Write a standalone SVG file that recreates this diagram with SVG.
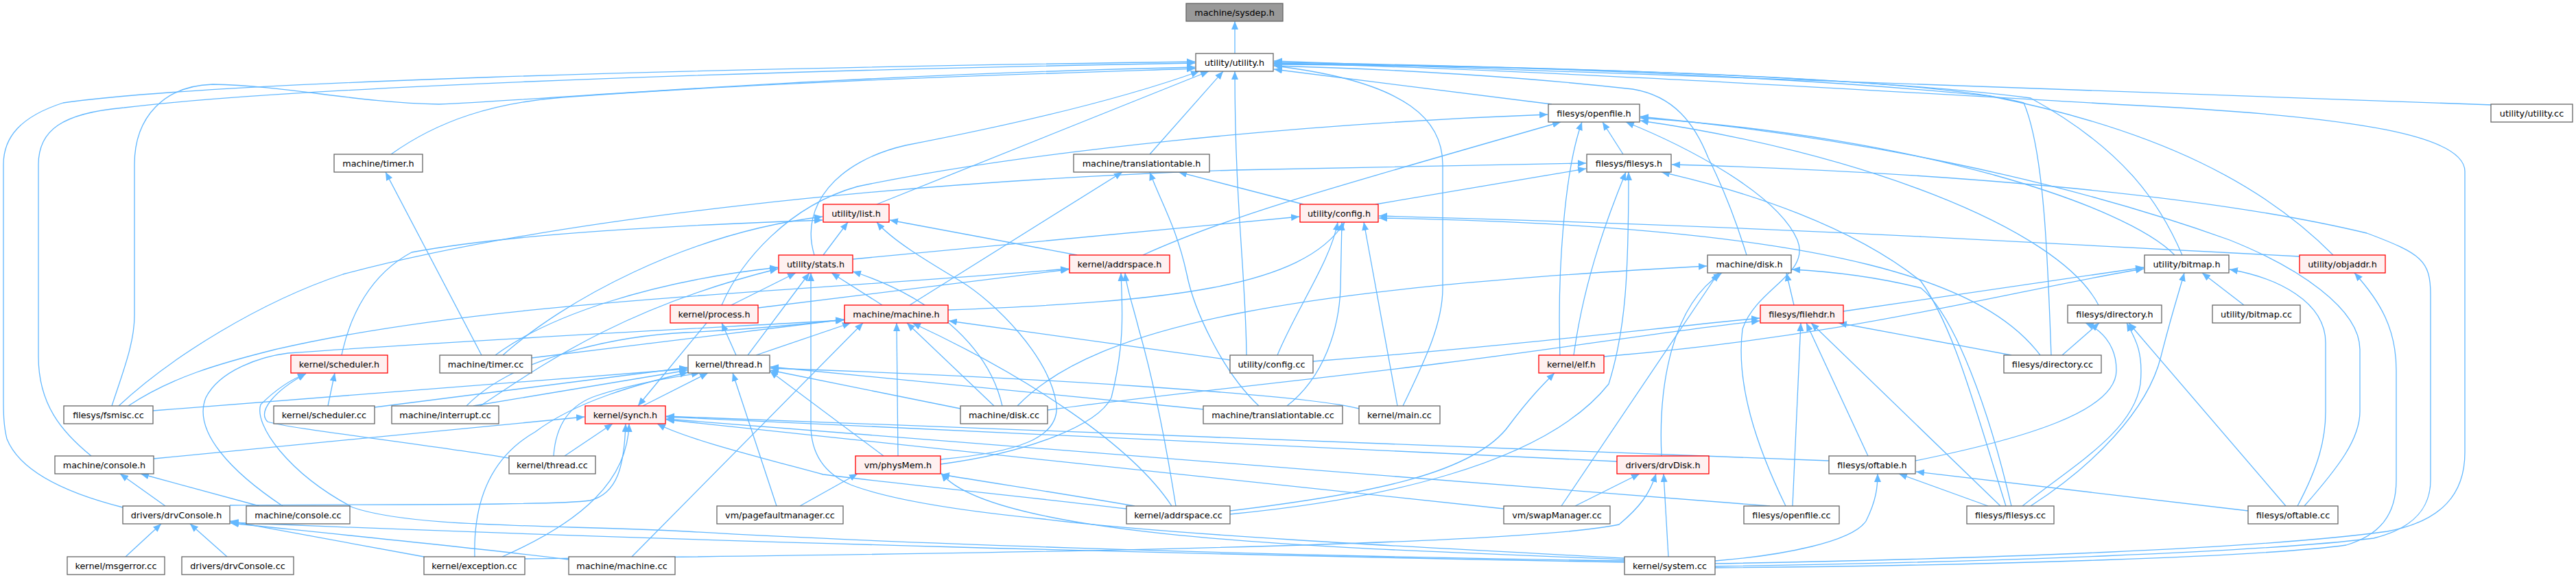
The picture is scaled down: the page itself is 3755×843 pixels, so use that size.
<svg xmlns="http://www.w3.org/2000/svg" width="3755" height="843" viewBox="0 0 3755 843">
<defs>
<style>
.e path{fill:none;stroke:#63b8ff;stroke-width:1.3;marker-end:url(#a)}
.n rect{fill:#ffffff;stroke:#666666;stroke-width:1.3}
.r rect{fill:#fff0f0;stroke:#ff0000;stroke-width:1.3}
.root rect{fill:#999999;stroke:#666666;stroke-width:1.3}
text{font-family:"DejaVu Sans","Liberation Sans",sans-serif;font-size:12.8px;fill:#000;text-anchor:middle}
</style>
<marker id="a" viewBox="0 0 12 10" refX="12" refY="5" markerWidth="12" markerHeight="10" markerUnits="userSpaceOnUse" orient="auto"><path d="M0,0L12,5L0,10z" fill="#63b8ff"/></marker>
</defs>
<rect width="3755" height="843" fill="#ffffff"/>
<g id="edges" class="e">
<path d="M1800,78 L1800,31"/>
<path d="M2262,152 L1857,101"/>
<path d="M3633,153 L1857,89"/>
<path d="M570,225 C640,175 720,150 820,142 C1150,118 1500,108 1742,100"/>
<path d="M1676,225 L1783,104"/>
<path d="M2366,225 L2336,178"/>
<path d="M1278,298 L1762,104"/>
<path d="M2005,298 L2312,246"/>
<path d="M1900,298 L1718,251"/>
<path d="M1187,372 C1165,300 1220,235 1320,212 C1460,185 1620,150 1748,104"/>
<path d="M1200,372 L1236,324"/>
<path d="M1243,378 L1894,316"/>
<path d="M1570,372 L1297,321"/>
<path d="M1666,372 C1780,320 1900,285 2275,178"/>
<path d="M2546,372 C2530,320 2510,270 2490,230 C2470,180 2440,140 2380,130 C2200,110 2000,100 1857,96"/>
<path d="M3181,372 C3150,300 3100,220 2960,143 C2700,110 2200,95 1857,93"/>
<path d="M3170,372 C3100,300 2800,200 2391,172"/>
<path d="M3401,372 C3300,270 3150,190 2900,140 C2600,110 2200,96 1857,91"/>
<path d="M3352,374 C3200,366 3000,355 2800,345 C2500,330 2200,320 2010,315"/>
<path d="M1105,449 L1558,393"/>
<path d="M1066,445 L1160,398"/>
<path d="M1052,445 C1080,380 1150,300 1250,272 C1500,220 1900,180 2256,167"/>
<path d="M1030,471 L930,592"/>
<path d="M1326,445 L1636,251"/>
<path d="M1286,445 L1212,398"/>
<path d="M1382,452 C1700,440 1900,420 1960,324"/>
<path d="M2615,445 L2604,398"/>
<path d="M2687,454 L3125,390"/>
<path d="M3059,445 C3000,330 2700,220 2391,176"/>
<path d="M3271,445 L3210,398"/>
<path d="M498,518 C510,460 540,400 600,368 C750,340 1000,328 1199,321"/>
<path d="M702,518 L562,251"/>
<path d="M775,522 L1230,466"/>
<path d="M722,518 C800,460 950,410 1134,390"/>
<path d="M733,518 C820,440 1000,340 1199,316"/>
<path d="M1073,518 L1052,471"/>
<path d="M1102,518 L1240,471"/>
<path d="M1090,518 L1180,398"/>
<path d="M1817,518 C1816,400 1800,300 1800,104"/>
<path d="M1862,518 C1890,450 1940,380 1950,324"/>
<path d="M1793,525 L1383,468"/>
<path d="M1914,527 C2200,505 2400,480 2565,464"/>
<path d="M2274,518 C2270,400 2280,250 2306,178"/>
<path d="M2294,518 C2310,400 2350,300 2370,251"/>
<path d="M2338,520 C2700,490 2950,420 3125,392"/>
<path d="M3006,518 L3060,471"/>
<path d="M2932,518 L2680,471"/>
<path d="M2990,518 C2985,380 2980,220 2950,150 C2800,110 2200,96 1857,94"/>
<path d="M2974,518 C2900,420 2700,330 2010,318"/>
<path d="M163,592 C180,540 196,500 196,460 L196,240 C196,170 240,125 310,123 C420,125 520,150 640,152 C800,145 1200,110 1742,98"/>
<path d="M173,592 C250,520 380,440 500,400 C800,320 1300,265 1800,248 C2000,243 2200,240 2312,238"/>
<path d="M187,592 C250,550 320,530 400,510 C700,440 1100,430 1558,392"/>
<path d="M223,599 L1002,538"/>
<path d="M478,592 L488,544"/>
<path d="M546,594 L1002,536"/>
<path d="M680,592 C750,520 900,490 1000,485 C1100,480 1180,472 1231,466"/>
<path d="M690,592 L1002,540"/>
<path d="M700,592 C780,540 900,450 1134,392"/>
<path d="M937,592 L1032,544"/>
<path d="M1483,592 C1600,470 1900,420 2488,388"/>
<path d="M1527,598 C1700,575 1900,555 2100,530 C2300,505 2450,480 2565,468"/>
<path d="M1449,592 L1322,471"/>
<path d="M1461,592 C1440,500 1350,430 1243,396"/>
<path d="M1400,596 L1123,540"/>
<path d="M1835,592 C1780,540 1740,450 1730,400 C1715,330 1690,290 1676,251"/>
<path d="M1876,592 C1930,550 1952,480 1954,420 L1956,324"/>
<path d="M1754,597 L1123,535"/>
<path d="M2045,592 C2080,520 2103,470 2103,420 L2103,240 C2103,180 2060,120 1857,96"/>
<path d="M2037,592 L1988,324"/>
<path d="M1981,596 C1900,575 1500,550 1123,537"/>
<path d="M133,665 C90,630 56,590 56,520 L56,240 C56,190 90,165 181,157 C400,130 1000,105 1742,92"/>
<path d="M224,669 L852,608"/>
<path d="M823,665 L893,618"/>
<path d="M807,665 C810,620 830,590 870,577 C920,560 980,550 1020,544"/>
<path d="M742,668 C600,645 420,625 390,615 C375,600 400,570 446,545"/>
<path d="M1309,665 L1307,471"/>
<path d="M1371,677 C1500,660 1600,620 1620,580 C1640,500 1636,450 1634,398"/>
<path d="M1371,670 C1480,660 1545,640 1540,590 C1530,520 1450,440 1400,410 C1350,380 1300,350 1278,324"/>
<path d="M1288,665 L1122,541"/>
<path d="M2422,665 C2418,580 2430,450 2510,398"/>
<path d="M2357,673 L971,608"/>
<path d="M2723,665 L2633,471"/>
<path d="M2666,672 L971,607"/>
<path d="M2792,672 C2950,640 3085,600 3085,540 C3085,500 3060,480 3040,471"/>
<path d="M241,738 L175,691"/>
<path d="M179,740 C100,720 30,690 10,640 C5,620 5,600 5,580 L5,240 C5,200 30,170 92,150 C300,120 1000,100 1742,90"/>
<path d="M335,737 C500,735 800,738 860,730 C900,720 910,680 912,618"/>
<path d="M378,738 L205,691"/>
<path d="M412,738 C340,690 280,630 300,580 C320,540 380,520 420,515 C700,495 1000,480 1230,467"/>
<path d="M1132,738 L1068,544"/>
<path d="M1166,738 L1250,691"/>
<path d="M1714,738 C1700,650 1680,550 1660,480 C1650,440 1642,420 1640,398"/>
<path d="M1654,738 C1550,720 1450,705 1372,692"/>
<path d="M1708,738 C1650,650 1500,550 1330,471"/>
<path d="M1793,745 C2000,720 2150,690 2200,620 C2230,580 2250,560 2266,544"/>
<path d="M1793,750 C2000,730 2250,680 2345,560 C2370,480 2374,400 2374,251"/>
<path d="M765,815 C1200,810 2200,800 2360,765 C2390,740 2405,720 2414,691"/>
<path d="M1642,742 C1500,725 1300,705 1200,692 C1100,665 1000,640 958,618"/>
<path d="M2296,738 L2390,691"/>
<path d="M2276,738 L2505,398"/>
<path d="M2192,742 L971,612"/>
<path d="M2603,738 C2560,650 2530,560 2540,480 C2560,420 2640,400 2620,350 C2590,280 2450,210 2370,178"/>
<path d="M2613,738 L2625,471"/>
<path d="M2580,738 L971,611"/>
<path d="M2924,738 C2880,600 2850,480 2800,410 C2700,330 2550,280 2422,251"/>
<path d="M2916,738 L2640,471"/>
<path d="M2898,738 L2768,691"/>
<path d="M2948,738 C3020,680 3110,630 3120,560 C3125,510 3110,490 3100,471"/>
<path d="M2960,738 C3050,680 3130,600 3150,520 C3165,460 3178,420 3184,398"/>
<path d="M2932,738 C2900,600 2850,460 2800,420 C2720,400 2650,395 2612,393"/>
<path d="M3277,745 L2793,688"/>
<path d="M3332,738 L3103,471"/>
<path d="M3349,738 C3380,680 3390,640 3390,600 L3390,500 C3390,440 3320,405 3250,393"/>
<path d="M3359,738 C3410,680 3440,640 3440,600 L3440,510 C3440,450 3350,390 3250,350 C3000,260 2700,200 2391,170"/>
<path d="M183,812 L235,764"/>
<path d="M331,812 L277,764"/>
<path d="M618,812 L335,760"/>
<path d="M732,812 C850,760 915,700 917,618"/>
<path d="M692,812 C690,740 710,670 780,630 C840,585 930,560 1003,543"/>
<path d="M829,816 C700,800 500,780 336,763"/>
<path d="M921,812 L1258,471"/>
<path d="M2368,820 C1800,810 1000,790 336,762"/>
<path d="M2432,812 L2425,691"/>
<path d="M2500,822 C2900,815 3300,800 3480,775 C3560,760 3593,720 3593,660 L3593,250 C3593,200 3450,170 3100,153 C2700,130 2200,100 1857,92"/>
<path d="M2500,826 C2900,820 3300,805 3460,785 C3520,770 3543,740 3543,700 L3543,430 C3543,380 3530,370 3450,340 C3200,280 2800,250 2437,240"/>
<path d="M2500,828 C2900,825 3300,812 3420,795 C3470,780 3493,750 3493,700 L3493,540 C3493,480 3470,440 3432,398"/>
<path d="M2500,818 C2600,810 2700,790 2720,760 C2735,730 2737,710 2737,691"/>
<path d="M2368,818 C1800,810 1250,790 1000,775 C800,765 600,770 514,740 C420,690 370,620 380,590 C400,570 420,555 446,545"/>
<path d="M2368,816 C2000,800 1450,790 1372,690"/>
<path d="M2368,814 C2100,800 1700,780 1521,757 C1400,745 1300,730 1240,707 C1200,690 1182,660 1182,620 L1182,398"/>
</g>
<g id="n_sysdep" class="root"><rect x="1729" y="5" width="141" height="26"/><text x="1799.5" y="22.5">machine/sysdep.h</text></g>
<g id="n_utility_h" class="n"><rect x="1743" y="78" width="113" height="26"/><text x="1799.5" y="95.5">utility/utility.h</text></g>
<g id="n_openfile_h" class="n"><rect x="2257" y="152" width="133" height="26"/><text x="2323.5" y="169.5">filesys/openfile.h</text></g>
<g id="n_utility_cc" class="n"><rect x="3631" y="152" width="119" height="26"/><text x="3690.5" y="169.5">utility/utility.cc</text></g>
<g id="n_timer_h" class="n"><rect x="487" y="225" width="129" height="26"/><text x="551.5" y="242.5">machine/timer.h</text></g>
<g id="n_translationtable_h" class="n"><rect x="1565" y="225" width="198" height="26"/><text x="1664" y="242.5">machine/translationtable.h</text></g>
<g id="n_filesys_h" class="n"><rect x="2313" y="225" width="123" height="26"/><text x="2374.5" y="242.5">filesys/filesys.h</text></g>
<g id="n_list_h" class="r"><rect x="1200" y="298" width="96" height="26"/><text x="1248" y="315.5">utility/list.h</text></g>
<g id="n_config_h" class="r"><rect x="1895" y="298" width="114" height="26"/><text x="1952" y="315.5">utility/config.h</text></g>
<g id="n_stats_h" class="r"><rect x="1135" y="372" width="108" height="26"/><text x="1189" y="389.5">utility/stats.h</text></g>
<g id="n_addrspace_h" class="r"><rect x="1559" y="372" width="146" height="26"/><text x="1632" y="389.5">kernel/addrspace.h</text></g>
<g id="n_disk_h" class="n"><rect x="2489" y="372" width="122" height="26"/><text x="2550" y="389.5">machine/disk.h</text></g>
<g id="n_bitmap_h" class="n"><rect x="3126" y="372" width="123" height="26"/><text x="3187.5" y="389.5">utility/bitmap.h</text></g>
<g id="n_objaddr_h" class="r"><rect x="3352" y="372" width="125" height="26"/><text x="3414.5" y="389.5">utility/objaddr.h</text></g>
<g id="n_process_h" class="r"><rect x="977" y="445" width="128" height="26"/><text x="1041" y="462.5">kernel/process.h</text></g>
<g id="n_machine_h" class="r"><rect x="1231" y="445" width="151" height="26"/><text x="1306.5" y="462.5">machine/machine.h</text></g>
<g id="n_filehdr_h" class="r"><rect x="2566" y="445" width="121" height="26"/><text x="2626.5" y="462.5">filesys/filehdr.h</text></g>
<g id="n_directory_h" class="n"><rect x="3014" y="445" width="137" height="26"/><text x="3082.5" y="462.5">filesys/directory.h</text></g>
<g id="n_bitmap_cc" class="n"><rect x="3225" y="445" width="128" height="26"/><text x="3289" y="462.5">utility/bitmap.cc</text></g>
<g id="n_scheduler_h" class="r"><rect x="424" y="518" width="141" height="26"/><text x="494.5" y="535.5">kernel/scheduler.h</text></g>
<g id="n_timer_cc" class="n"><rect x="641" y="518" width="134" height="26"/><text x="708" y="535.5">machine/timer.cc</text></g>
<g id="n_thread_h" class="n"><rect x="1003" y="518" width="119" height="26"/><text x="1062.5" y="535.5">kernel/thread.h</text></g>
<g id="n_config_cc" class="n"><rect x="1793" y="518" width="121" height="26"/><text x="1853.5" y="535.5">utility/config.cc</text></g>
<g id="n_elf_h" class="r"><rect x="2243" y="518" width="95" height="26"/><text x="2290.5" y="535.5">kernel/elf.h</text></g>
<g id="n_directory_cc" class="n"><rect x="2921" y="518" width="142" height="26"/><text x="2992" y="535.5">filesys/directory.cc</text></g>
<g id="n_fsmisc_cc" class="n"><rect x="93" y="592" width="130" height="26"/><text x="158" y="609.5">filesys/fsmisc.cc</text></g>
<g id="n_scheduler_cc" class="n"><rect x="399" y="592" width="147" height="26"/><text x="472.5" y="609.5">kernel/scheduler.cc</text></g>
<g id="n_interrupt_cc" class="n"><rect x="571" y="592" width="156" height="26"/><text x="649" y="609.5">machine/interrupt.cc</text></g>
<g id="n_synch_h" class="r"><rect x="853" y="592" width="117" height="26"/><text x="911.5" y="609.5">kernel/synch.h</text></g>
<g id="n_disk_cc" class="n"><rect x="1400" y="592" width="127" height="26"/><text x="1463.5" y="609.5">machine/disk.cc</text></g>
<g id="n_translationtable_cc" class="n"><rect x="1754" y="592" width="203" height="26"/><text x="1855.5" y="609.5">machine/translationtable.cc</text></g>
<g id="n_main_cc" class="n"><rect x="1981" y="592" width="118" height="26"/><text x="2040" y="609.5">kernel/main.cc</text></g>
<g id="n_console_h" class="n"><rect x="80" y="665" width="144" height="26"/><text x="152" y="682.5">machine/console.h</text></g>
<g id="n_thread_cc" class="n"><rect x="742" y="665" width="126" height="26"/><text x="805" y="682.5">kernel/thread.cc</text></g>
<g id="n_physMem_h" class="r"><rect x="1247" y="665" width="124" height="26"/><text x="1309" y="682.5">vm/physMem.h</text></g>
<g id="n_drvDisk_h" class="r"><rect x="2357" y="665" width="134" height="26"/><text x="2424" y="682.5">drivers/drvDisk.h</text></g>
<g id="n_oftable_h" class="n"><rect x="2666" y="665" width="126" height="26"/><text x="2729" y="682.5">filesys/oftable.h</text></g>
<g id="n_drvConsole_h" class="n"><rect x="179" y="738" width="156" height="26"/><text x="257" y="755.5">drivers/drvConsole.h</text></g>
<g id="n_console_cc" class="n"><rect x="359" y="738" width="151" height="26"/><text x="434.5" y="755.5">machine/console.cc</text></g>
<g id="n_pagefaultmanager_cc" class="n"><rect x="1045" y="738" width="184" height="26"/><text x="1137" y="755.5">vm/pagefaultmanager.cc</text></g>
<g id="n_addrspace_cc" class="n"><rect x="1642" y="738" width="151" height="26"/><text x="1717.5" y="755.5">kernel/addrspace.cc</text></g>
<g id="n_swapManager_cc" class="n"><rect x="2192" y="738" width="155" height="26"/><text x="2269.5" y="755.5">vm/swapManager.cc</text></g>
<g id="n_openfile_cc" class="n"><rect x="2542" y="738" width="139" height="26"/><text x="2611.5" y="755.5">filesys/openfile.cc</text></g>
<g id="n_filesys_cc" class="n"><rect x="2867" y="738" width="127" height="26"/><text x="2930.5" y="755.5">filesys/filesys.cc</text></g>
<g id="n_oftable_cc" class="n"><rect x="3277" y="738" width="131" height="26"/><text x="3342.5" y="755.5">filesys/oftable.cc</text></g>
<g id="n_msgerror_cc" class="n"><rect x="98" y="812" width="142" height="26"/><text x="169" y="829.5">kernel/msgerror.cc</text></g>
<g id="n_drvConsole_cc" class="n"><rect x="265" y="812" width="163" height="26"/><text x="346.5" y="829.5">drivers/drvConsole.cc</text></g>
<g id="n_exception_cc" class="n"><rect x="618" y="812" width="147" height="26"/><text x="691.5" y="829.5">kernel/exception.cc</text></g>
<g id="n_machine_cc" class="n"><rect x="829" y="812" width="155" height="26"/><text x="906.5" y="829.5">machine/machine.cc</text></g>
<g id="n_system_cc" class="n"><rect x="2368" y="812" width="132" height="26"/><text x="2434" y="829.5">kernel/system.cc</text></g>
</svg>
